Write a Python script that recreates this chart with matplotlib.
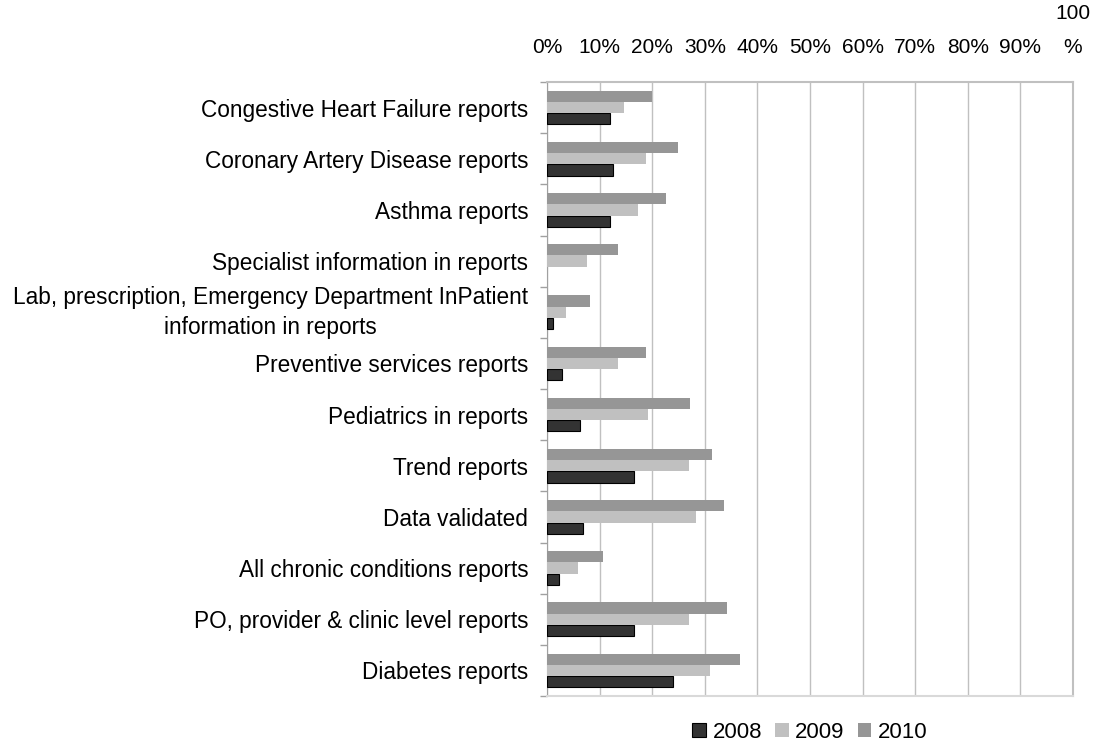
import numpy as np
import matplotlib
matplotlib.use('Agg')
import matplotlib.pyplot as plt
from matplotlib.ticker import FixedLocator

plt.rcParams['font.family'] = ['Liberation Sans', 'DejaVu Sans']

# 从下到上的类别
categories = [
    "Diabetes reports",
    "PO, provider & clinic level reports",
    "All chronic conditions reports",
    "Data validated",
    "Trend reports",
    "Pediatrics in reports",
    "Preventive services reports",
    "Lab, prescription, Emergency Department InPatient\ninformation in reports",
    "Specialist information in reports",
    "Asthma reports",
    "Coronary Artery Disease reports",
    "Congestive Heart Failure reports",
]
v2008 = [23.9, 16.6, 2.2, 6.9, 16.6, 6.2, 2.9, 1.1, 0.0, 12.0, 12.6, 11.9]
v2009 = [31.0, 27.0, 5.8, 28.3, 27.0, 19.2, 13.5, 3.7, 7.6, 17.3, 18.8, 14.6]
v2010 = [36.7, 34.2, 10.6, 33.7, 31.4, 27.2, 18.9, 8.1, 13.5, 22.6, 24.9, 19.9]
years = ["2008", "2009", "2010"]
xticks = [0, 10, 20, 30, 40, 50, 60, 70, 80, 90, 100]
xticklabels = ["0%", "10%", "20%", "30%", "40%", "50%", "60%", "70%", "80%", "90%", "100\n%"]

fig = plt.figure(figsize=(10.99, 7.46), dpi=100)
ax = fig.add_axes([547/1099, 1-696/746, (1073-547)/1099, (696-82)/746])

y = np.arange(len(categories))
h = 0.22
# 值为0的柱子不画边框
lw2008 = [0.8 if v > 0 else 0 for v in v2008]
ax.barh(y - h, v2008, height=h, color='#333333', edgecolor='black', linewidth=lw2008, label=years[0], zorder=3)
ax.barh(y, v2009, height=h, color='#c0c0c0', linewidth=0, label=years[1], zorder=3)
ax.barh(y + h, v2010, height=h, color='#969696', linewidth=0, label=years[2], zorder=3)

ax.set_xlim(0, 100)
ax.set_ylim(-0.5, len(categories) - 0.5)
ax.xaxis.tick_top()
ax.set_xticks(xticks)
ax.set_xticklabels(xticklabels, fontsize=15, linespacing=2.0)
ax.tick_params(axis='x', length=0, pad=18)
ax.grid(axis='x', color='#c0c0c0', linewidth=1, zorder=0)

ax.set_yticks(y)
ax.set_yticklabels(categories, fontsize=16.3, multialignment='center', linespacing=1.4)
ax.tick_params(axis='y', which='major', length=0, pad=13.5)
for lab in ax.get_yticklabels():
    if "\n" in lab.get_text():
        lab.set_va('center')
ax.yaxis.set_minor_locator(FixedLocator(np.arange(-0.5, len(categories), 1.0)))
ax.tick_params(axis='y', which='minor', length=5, color='#a0a0a0', width=1)

for s in ['top', 'right']:
    ax.spines[s].set_color('#c0c0c0')
    ax.spines[s].set_linewidth(1.5)
ax.spines['bottom'].set_color('#d9d9d9')
ax.spines['bottom'].set_linewidth(1.5)
ax.spines['left'].set_color('#a0a0a0')

fig.legend(loc='center', bbox_to_anchor=(810/1099, 1-732/746), ncol=3, frameon=False,
           fontsize=16, handlelength=0.6, handleheight=0.6, handletextpad=0.3,
           columnspacing=0.6, borderpad=0, borderaxespad=0)

fig.savefig('out.png', dpi=100)
